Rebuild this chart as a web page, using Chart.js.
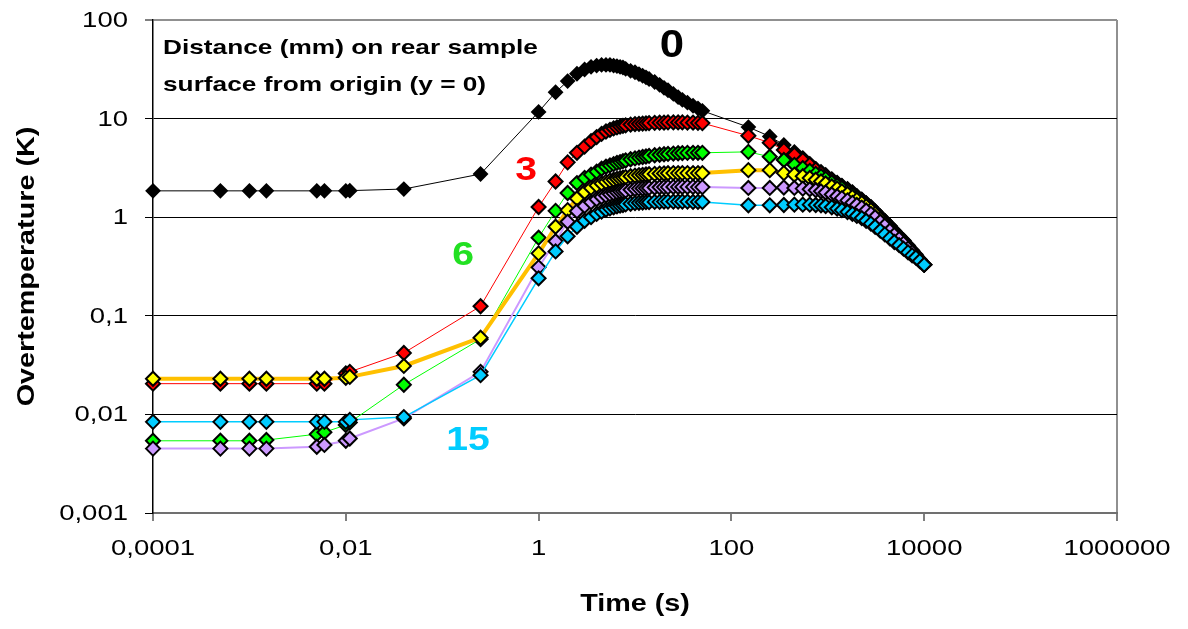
<!DOCTYPE html>
<html lang="en">
<head>
    <meta charset="UTF-8" />
    <title>Overtemperature on rear sample surface</title>
    <style>
        body { margin: 0; background: #fff; }
    </style>
</head>

<body>
    <canvas id="tempChart" width="1188" height="629"></canvas>

    <script src="https://cdn.jsdelivr.net/npm/chart.js@4.4.0/dist/chart.umd.min.js"></script>
    <script>
        // time steps (s)
        const timeS = [
            0.0001, 0.0005, 0.001, 0.0015, 0.005, 0.006, 0.01, 0.011, 0.04, 0.25, 1, 1.5,
            2, 2.5, 3, 3.5, 4, 4.5, 5, 5.5, 6, 6.5, 7, 7.5, 8, 9, 10, 11, 12, 13, 14, 16, 18, 20, 22, 25, 28, 31, 35, 40, 45, 50,
            150, 250, 350, 450, 550, 650, 750, 850, 950, 1100, 1250, 1400, 1600, 1800, 2000, 2250, 2500, 2800, 3100, 3500,
            3900, 4400, 4900, 5500, 6100, 6800, 7500, 8200, 9000, 10000
        ];

        // overtemperature (K) at distance 0, 3, 6, 9, 12, 15 mm
        const temp0mm = [
            1.85, 1.85, 1.85, 1.85, 1.85, 1.85, 1.85, 1.86, 1.93, 2.74, 11.7, 18.5,
            24, 28.5, 31.5, 33.5, 34.5, 35, 35, 35, 34.5, 34, 33.5, 33, 32, 30.5, 29.5, 28.3, 27.2, 26.2, 25.2, 23.5, 22, 20.5, 19.4, 17.8, 16.5, 15.5, 14.5, 13.5, 12.7, 12,
            8.2, 6.6, 5.4, 4.6, 4.0, 3.5, 3.1, 2.9, 2.7, 2.45, 2.25, 2.1, 1.95, 1.8, 1.65, 1.52, 1.4, 1.28, 1.15, 1.02,
            0.92, 0.82, 0.73, 0.65, 0.58, 0.52, 0.46, 0.42, 0.37, 0.33
        ];
        const temp3mm = [
            0.0205, 0.0205, 0.0205, 0.0205, 0.0205, 0.0205, 0.026, 0.027, 0.042, 0.125, 1.27, 2.3,
            3.6, 4.5, 5.2, 5.9, 6.5, 7.0, 7.4, 7.7, 7.95, 8.15, 8.3, 8.45, 8.55, 8.7, 8.8, 8.85, 8.9, 8.95, 9.0, 9.05, 9.1, 9.1, 9.15, 9.15, 9.15, 9.15, 9.1, 9.1, 9.05, 9.0,
            6.7, 5.7, 4.8, 4.3, 3.8, 3.4, 3.05, 2.8, 2.6, 2.38, 2.2, 2.05, 1.9, 1.76, 1.62, 1.49, 1.38, 1.26, 1.14, 1.01,
            0.91, 0.81, 0.72, 0.64, 0.58, 0.51, 0.46, 0.41, 0.37, 0.33
        ];
        const temp6mm = [
            0.0054, 0.0054, 0.0054, 0.0055, 0.0063, 0.0066, 0.0078, 0.0083, 0.02, 0.058, 0.62, 1.16,
            1.76, 2.22, 2.5, 2.7, 2.9, 3.1, 3.25, 3.35, 3.45, 3.55, 3.62, 3.7, 3.76, 3.87, 3.95, 4.02, 4.08, 4.13, 4.18, 4.25, 4.3, 4.35, 4.38, 4.42, 4.45, 4.47, 4.49, 4.5, 4.5, 4.5,
            4.6, 4.1, 3.8, 3.4, 3.15, 2.95, 2.75, 2.6, 2.45, 2.25, 2.1, 1.97, 1.83, 1.7, 1.58, 1.45, 1.35, 1.23, 1.12, 0.99,
            0.89, 0.79, 0.71, 0.63, 0.57, 0.5, 0.45, 0.41, 0.37, 0.33
        ];
        const temp9mm = [
            0.023, 0.023, 0.023, 0.023, 0.023, 0.023, 0.0235, 0.024, 0.031, 0.06, 0.43, 0.8,
            1.18, 1.55, 1.8, 1.98, 2.1, 2.2, 2.28, 2.35, 2.4, 2.45, 2.49, 2.52, 2.55, 2.6, 2.64, 2.67, 2.69, 2.71, 2.73, 2.75, 2.77, 2.78, 2.79, 2.8, 2.8, 2.8, 2.8, 2.8, 2.8, 2.8,
            3.0, 3.0, 2.8, 2.7, 2.6, 2.5, 2.4, 2.3, 2.2, 2.05, 1.95, 1.83, 1.72, 1.6, 1.5, 1.39, 1.29, 1.18, 1.08, 0.96,
            0.86, 0.77, 0.69, 0.62, 0.56, 0.49, 0.45, 0.4, 0.36, 0.33
        ];
        const temp12mm = [
            0.0045, 0.0045, 0.0045, 0.0045, 0.0047, 0.0049, 0.0054, 0.0057, 0.0091, 0.027, 0.31, 0.57,
            0.9, 1.15, 1.3, 1.42, 1.52, 1.6, 1.66, 1.71, 1.75, 1.79, 1.82, 1.84, 1.86, 1.9, 1.93, 1.95, 1.96, 1.97, 1.98, 2.0, 2.01, 2.02, 2.02, 2.03, 2.03, 2.03, 2.03, 2.03, 2.02, 2.02,
            1.98, 1.98, 2.0, 1.98, 1.95, 1.92, 1.88, 1.83, 1.78, 1.7, 1.63, 1.56, 1.48, 1.4, 1.33, 1.25, 1.17, 1.08, 1.0, 0.9,
            0.82, 0.73, 0.66, 0.6, 0.54, 0.48, 0.44, 0.4, 0.36, 0.33
        ];
        const temp15mm = [
            0.0084, 0.0084, 0.0084, 0.0084, 0.0084, 0.0084, 0.0084, 0.0088, 0.0094, 0.025, 0.24, 0.45,
            0.64, 0.8, 0.92, 1.0, 1.08, 1.14, 1.19, 1.23, 1.26, 1.29, 1.31, 1.33, 1.35, 1.37, 1.39, 1.4, 1.41, 1.42, 1.42, 1.43, 1.43, 1.44, 1.44, 1.44, 1.44, 1.44, 1.44, 1.43, 1.43, 1.43,
            1.32, 1.32, 1.33, 1.34, 1.34, 1.34, 1.33, 1.32, 1.3, 1.26, 1.22, 1.18, 1.13, 1.08, 1.03, 0.98, 0.92, 0.86, 0.8, 0.73,
            0.67, 0.61, 0.56, 0.52, 0.48, 0.44, 0.41, 0.39, 0.36, 0.33
        ];

        const distances = ['0', '3', '6', '9', '12', '15'];

        // axis ticks
        const xTicks = [0.0001, 0.01, 1, 100, 10000, 1000000];
        const xTickLabels = ['0,0001', '0,01', '1', '100', '10000', '1000000'];
        const yTicks = [0.001, 0.01, 0.1, 1, 10, 100];
        const yTickLabels = ['0,001', '0,01', '0,1', '1', '10', '100'];

        const toPoints = vals => vals.map((v, i) => ({ x: timeS[i], y: v }));

        const FONT = "'Liberation Sans', Arial, sans-serif";
        const STRETCH = 1.25;

        // excel-ish wide text
        function drawText(ctx, text, x, y, font, color, align, sx, rot) {
            ctx.save();
            ctx.translate(x, y);
            if (rot) ctx.rotate(rot);
            ctx.scale(sx, 1);
            ctx.font = font;
            ctx.fillStyle = color;
            ctx.textAlign = align;
            ctx.textBaseline = 'middle';
            ctx.fillText(text, 0, 0);
            ctx.restore();
        }

        const textPlugin = {
            id: 'textPlugin',
            afterDraw(chart) {
                const ctx = chart.ctx;
                const xs = chart.scales.x;
                const ys = chart.scales.y;

                yTicks.forEach((v, i) => {
                    drawText(ctx, yTickLabels[i], 128, ys.getPixelForValue(v) + 1, '22px ' + FONT, '#000', 'right', STRETCH);
                });
                xTicks.forEach((v, i) => {
                    drawText(ctx, xTickLabels[i], xs.getPixelForValue(v), 549, '22px ' + FONT, '#000', 'center', STRETCH);
                });

                drawText(ctx, 'Time (s)', (xs.left + xs.right) / 2, 605, 'bold 23px ' + FONT, '#000', 'center', STRETCH);
                drawText(ctx, 'Overtemperature (K)', 28, (ys.top + ys.bottom) / 2, 'bold 23px ' + FONT, '#000', 'center', STRETCH, -Math.PI / 2);

                // legend text box
                drawText(ctx, 'Distance (mm) on rear sample', 163, 48, 'bold 21px ' + FONT, '#000', 'left', STRETCH);
                drawText(ctx, 'surface from origin (y = 0)', 163, 85, 'bold 21px ' + FONT, '#000', 'left', STRETCH);

                // series labels
                drawText(ctx, '0', 672, 47, 'bold 38px ' + FONT, '#000', 'center', 1.15);
                drawText(ctx, '3', 526, 171, 'bold 34px ' + FONT, '#ff0000', 'center', 1.15);
                drawText(ctx, '6', 463, 256, 'bold 34px ' + FONT, '#22e022', 'center', 1.15);
                drawText(ctx, '15', 468, 441, 'bold 34px ' + FONT, '#00ccff', 'center', 1.15);
            }
        };

        const series = [
            { data: temp0mm, fill: '#000000', line: '#000000', width: 1, r: 6.5 },
            { data: temp3mm, fill: '#ff0000', line: '#ff0000', width: 1, r: 7 },
            { data: temp6mm, fill: '#00ff00', line: '#00ff00', width: 1, r: 7 },
            { data: temp9mm, fill: '#ffff00', line: '#ffc000', width: 4, r: 7 },
            { data: temp12mm, fill: '#cc99ff', line: '#cc99ff', width: 2, r: 7 },
            { data: temp15mm, fill: '#00ccff', line: '#00ccff', width: 1.5, r: 7 }
        ];

        const ctx = document.getElementById('tempChart').getContext('2d');
        const tempChart = new Chart(ctx, {
            type: 'line',
            data: {
                datasets: series.map((s, i) => ({
                    label: distances[i],
                    data: toPoints(s.data),
                    borderColor: s.line,
                    borderWidth: s.width,
                    pointStyle: 'rectRot',
                    pointRadius: s.r,
                    pointBackgroundColor: s.fill,
                    pointBorderColor: '#000000',
                    pointBorderWidth: 2,
                    tension: 0,
                    clip: false,
                    order: series.length - 1 - i
                }))
            },
            options: {
                responsive: false,
                animation: false,
                devicePixelRatio: 1,
                layout: { padding: { left: 0, right: 71, top: 20, bottom: 0 } },
                plugins: {
                    legend: { display: false },
                    tooltip: { enabled: false }
                },
                scales: {
                    x: {
                        type: 'logarithmic',
                        min: 0.0001,
                        max: 1000000,
                        afterBuildTicks: s => { s.ticks = xTicks.map(v => ({ value: v })); },
                        afterFit: s => { s.height = 116; },
                        ticks: { display: false },
                        border: { color: '#707070', width: 2 },
                        grid: {
                            color: c => c.tick && c.tick.value === 1000000 ? '#909090' : 'rgba(0,0,0,0)',
                            lineWidth: 2,
                            tickColor: '#000000',
                            tickWidth: 1,
                            tickLength: 8
                        }
                    },
                    y: {
                        type: 'logarithmic',
                        min: 0.001,
                        max: 100,
                        afterBuildTicks: s => { s.ticks = yTicks.map(v => ({ value: v })); },
                        afterFit: s => { s.width = 153; },
                        ticks: { display: false },
                        border: { color: '#000000', width: 1.5 },
                        grid: {
                            color: c => {
                                if (!c.tick) return '#000000';
                                if (c.tick.value === 100) return '#909090';
                                if (c.tick.value === 0.001) return 'rgba(0,0,0,0)';
                                return '#000000';
                            },
                            lineWidth: c => c.tick && c.tick.value === 100 ? 2 : 1,
                            tickColor: '#000000',
                            tickWidth: 1,
                            tickLength: 8
                        }
                    }
                }
            },
            plugins: [textPlugin]
        });
    </script>
</body>

</html>
